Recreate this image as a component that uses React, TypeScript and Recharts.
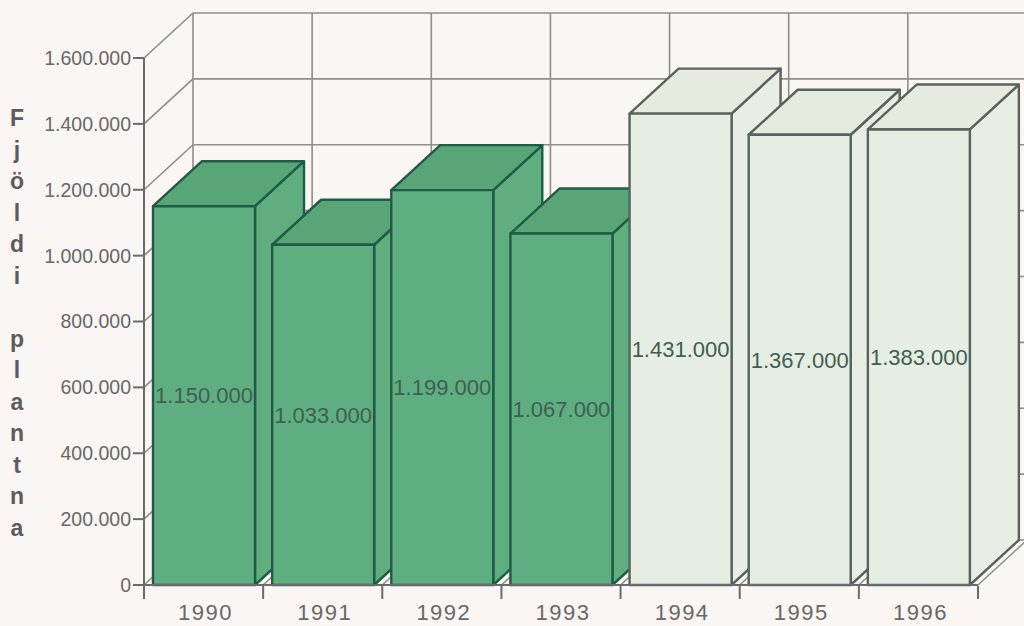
import { BarChart, Bar, XAxis, YAxis, CartesianGrid, LabelList } from "recharts";

const YEARS = ["1990", "1991", "1992", "1993", "1994", "1995", "1996"];
const PLANTS = [1150000, 1033000, 1199000, 1067000, 1431000, 1367000, 1383000];
const TONES = ["green", "green", "green", "green", "pale", "pale", "pale"];
const Y_TICKS = [0, 200000, 400000, 600000, 800000, 1000000, 1200000, 1400000, 1600000];
const AXIS_TITLE = "Fjöldi plantna";

const chartData = YEARS.map((year, i) => ({ year, plants: PLANTS[i], tone: TONES[i] }));

const W = 1024;
const H = 626;
const MARGIN = { top: 58, right: 46, bottom: 0, left: 0 };
const Y_AXIS_W = 144;
const X_AXIS_H = 41;
const PLOT_LEFT = Y_AXIS_W;
const PLOT_RIGHT = W - MARGIN.right;
const BAND = (PLOT_RIGHT - PLOT_LEFT) / YEARS.length;

// depth of the fake 3D box
const DX = 49;
const DY = 45;

const BG = "#faf6f3";
const GRID = "#8e8e8a";
const AXIS = "#6b6b6e";
const TEXT = "#68686a";

const PALETTE: Record<string, any> = {
  green: { front: "#5fae82", top: "#58a678", side: "#60ad80", line: "#1f5c45" },
  pale: { front: "#e6ede3", top: "#e5ebdf", side: "#e8eee6", line: "#59625c" },
};

const fmt = (v: number) => String(v).replace(/\B(?=(\d{3})+$)/g, ".");

function Box3D(props: any) {
  const { x, y, width, height, payload } = props;
  const c = PALETTE[payload.tone];
  const r = x + width;
  const b = y + height;
  return (
    <g stroke={c.line} strokeWidth={2.4} strokeLinejoin="round">
      <polygon points={`${r},${y} ${r + DX},${y - DY} ${r + DX},${b - DY} ${r},${b}`} fill={c.side} />
      <polygon points={`${x},${y} ${x + DX},${y - DY} ${r + DX},${y - DY} ${r},${y}`} fill={c.top} />
      <rect x={x} y={y} width={width} height={height} fill={c.front} />
    </g>
  );
}

// back wall line plus the diagonal on the left wall
function WallH(p: any) {
  return (
    <g stroke={GRID} strokeWidth={1.6}>
      <line x1={p.x1} y1={p.y1} x2={p.x1 + DX} y2={p.y1 - DY} />
      <line x1={p.x1 + DX} y1={p.y1 - DY} x2={p.x2 + DX + 4} y2={p.y1 - DY} />
    </g>
  );
}

// grid sits at band centres, the wall lines belong on the band edges
function WallV(p: any) {
  if (p.x1 <= PLOT_LEFT + 1 || p.x1 >= PLOT_RIGHT - 1) return <g />;
  const left = p.x1 - BAND / 2;
  return (
    <g stroke={GRID} strokeWidth={1.6}>
      <line x1={left + DX} y1={p.y1 - DY} x2={left + DX} y2={p.y2 - DY} />
      <line x1={left + BAND} y1={p.y2} x2={left + BAND + DX} y2={p.y2 - DY} />
    </g>
  );
}

function YearTick(p: any) {
  const { x, y, payload, index } = p;
  const left = x - BAND / 2;
  return (
    <g>
      <line x1={left} y1={y - 1} x2={left} y2={y + 12} stroke={AXIS} strokeWidth={2} />
      {index === YEARS.length - 1 && (
        <line x1={left + BAND} y1={y - 1} x2={left + BAND} y2={y + 12} stroke={AXIS} strokeWidth={2} />
      )}
      <text x={x + 2} y={y + 33} textAnchor="middle" fontSize={22} letterSpacing={1.5} fontFamily="Liberation Sans" fill={TEXT}>
        {payload.value}
      </text>
    </g>
  );
}

function StackedTitle() {
  return (
    <text fontFamily="Liberation Sans" fontSize={23} fontWeight="bold" fill="#5c5c5e" textAnchor="middle">
      {AXIS_TITLE.split("").map((ch, i) => (
        <tspan key={i} x={17} y={126 + i * 31.5}>
          {ch === " " ? "\u00a0" : ch}
        </tspan>
      ))}
    </text>
  );
}

export default function App() {
  return (
    <div style={{ position: "absolute", left: 0, top: 0, width: W, height: H, background: BG, overflow: "hidden" }}>
      <BarChart width={W} height={H} data={chartData} margin={MARGIN} barSize={102}>
        <CartesianGrid horizontal={WallH} vertical={WallV} />
        <XAxis
          dataKey="year"
          height={X_AXIS_H}
          axisLine={{ stroke: AXIS, strokeWidth: 2 }}
          tickLine={false}
          tickSize={0}
          interval={0}
          tick={YearTick}
        />
        <YAxis
          width={Y_AXIS_W}
          domain={[0, 1600000]}
          ticks={Y_TICKS}
          tickFormatter={fmt}
          axisLine={{ stroke: AXIS, strokeWidth: 2 }}
          tickLine={{ stroke: AXIS, strokeWidth: 2 }}
          tickSize={11}
          tickMargin={2}
          tick={{ fill: TEXT, fontSize: 19.5, fontFamily: "Liberation Sans" }}
          label={<StackedTitle />}
        />
        <Bar dataKey="plants" shape={Box3D} isAnimationActive={false}>
          <LabelList
            dataKey="plants"
            position="center"
            formatter={fmt}
            fontSize={22}
            fontFamily="Liberation Sans"
            fill="#3f5f52"
          />
        </Bar>
      </BarChart>
    </div>
  );
}
